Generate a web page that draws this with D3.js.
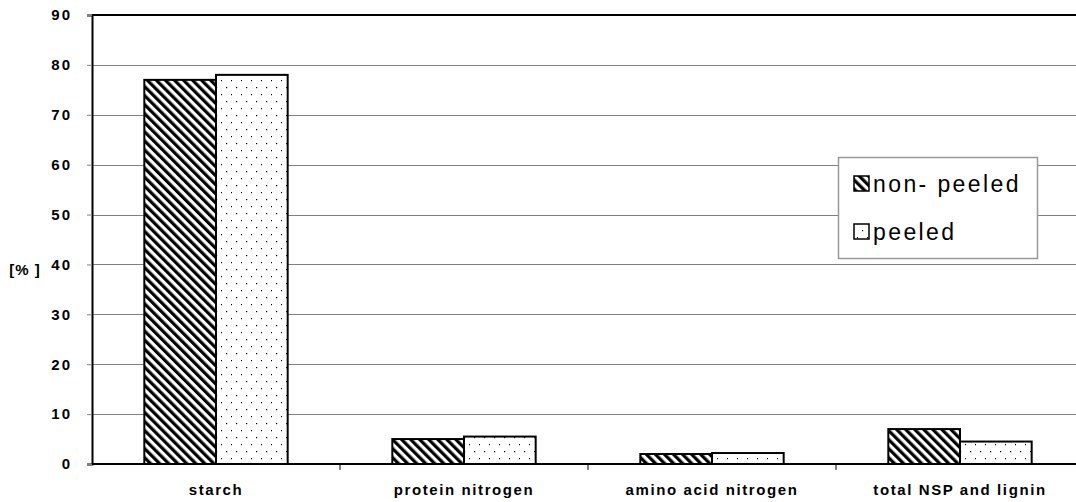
<!DOCTYPE html>
<html><head><meta charset="utf-8">
<script src="https://cdn.jsdelivr.net/npm/d3@7"></script>
<style>body{margin:0;background:#fff}svg{display:block}text{font-family:"Liberation Sans",Arial,sans-serif}</style>
</head><body>
<script>
const categories = ["starch", "protein nitrogen", "amino acid nitrogen", "total NSP and lignin"];
const seriesNames = ["non- peeled", "peeled"];
const nonPeeled = [77, 5, 2, 7];
const peeled = [78, 5.5, 2.2, 4.5];
const yTicks = [0, 10, 20, 30, 40, 50, 60, 70, 80, 90];

const W = 1076, H = 502;
const m = {left: 92, top: 15, right: -8, bottom: 38};
const svg = d3.select("body").append("svg").attr("width", W).attr("height", H);
const defs = svg.append("defs");
const hatch = defs.append("pattern").attr("id", "hatch").attr("patternUnits", "userSpaceOnUse")
  .attr("width", 6.4).attr("height", 6.4).attr("patternTransform", "rotate(-45)");
hatch.append("rect").attr("width", 6.4).attr("height", 6.4).attr("fill", "#fff");
hatch.append("rect").attr("x", 0).attr("width", 3.2).attr("height", 6.4).attr("fill", "#000");
const dots = defs.append("pattern").attr("id", "dots").attr("patternUnits", "userSpaceOnUse")
  .attr("width", 10).attr("height", 14);
dots.append("rect").attr("width", 10).attr("height", 14).attr("fill", "#fff");
dots.append("rect").attr("x", 4).attr("y", 3).attr("width", 1.2).attr("height", 1.2).attr("fill", "#000");
dots.append("rect").attr("x", 9).attr("y", 10).attr("width", 1.2).attr("height", 1.2).attr("fill", "#000");

const x0 = d3.scaleBand().domain(categories).range([m.left, W - m.right]).paddingInner(0).paddingOuter(0);
const y = d3.scaleLinear().domain([0, 90]).range([H - m.bottom, m.top]);
const x1 = d3.scaleBand().domain(seriesNames).range([0, x0.bandwidth()]).paddingInner(0).paddingOuter(0.73);

// gridlines
svg.append("g").selectAll("line").data(yTicks.filter(d => d > 0 && d < 90)).join("line")
  .attr("x1", m.left).attr("x2", W).attr("y1", d => Math.round(y(d)) + 0.5).attr("y2", d => Math.round(y(d)) + 0.5)
  .attr("stroke", "#808080").attr("stroke-width", 1);

// top border
svg.append("line").attr("x1", m.left).attr("x2", W).attr("y1", y(90)).attr("y2", y(90))
  .attr("stroke", "#000").attr("stroke-width", 2);

// bars
const data = categories.map((c, i) => ({c, vals: [nonPeeled[i], peeled[i]]}));
const fills = ["url(#hatch)", "url(#dots)"];
const g = svg.append("g").selectAll("g").data(data).join("g")
  .attr("transform", d => `translate(${x0(d.c)},0)`);
g.selectAll("rect").data(d => d.vals.map((v, j) => ({v, j}))).join("rect")
  .attr("x", d => x1(seriesNames[d.j])).attr("width", x1.bandwidth())
  .attr("y", d => y(d.v)).attr("height", d => y(0) - y(d.v))
  .attr("fill", d => fills[d.j]).attr("stroke", "#000").attr("stroke-width", 2);

// y axis
const yAxis = d3.axisLeft(y).tickValues(yTicks).tickSize(5).tickPadding(15).tickFormat(d3.format("d"));
const ya = svg.append("g").attr("transform", `translate(${m.left},0)`).call(yAxis);
ya.select(".domain").attr("stroke", "#000").attr("stroke-width", 2);
ya.selectAll(".tick line").attr("stroke", "#808080");
ya.selectAll("text").attr("font-size", 15).attr("font-weight", "bold").attr("fill", "#000")
  .attr("letter-spacing", "2px").attr("font-family", "Liberation Sans, Arial, sans-serif");

// x axis
const xAxis = d3.axisBottom(x0).tickSize(0).tickPadding(20);
const xa = svg.append("g").attr("transform", `translate(0,${y(0)})`).call(xAxis);
xa.select(".domain").attr("stroke", "#000").attr("stroke-width", 2).attr("d", `M${m.left},0H${W}`);
xa.selectAll("text").attr("font-size", 15).attr("font-weight", "bold").attr("fill", "#000")
  .attr("letter-spacing", "1.6px").attr("font-family", "Liberation Sans, Arial, sans-serif");
// category separator ticks
svg.append("g").selectAll("line").data(categories.slice(1)).join("line")
  .attr("x1", d => x0(d)).attr("x2", d => x0(d)).attr("y1", y(0)).attr("y2", y(0) + 6)
  .attr("stroke", "#000").attr("stroke-width", 1);

// y label
svg.append("text").attr("x", 25).attr("y", 275).attr("text-anchor", "middle")
  .attr("font-size", 15).attr("font-weight", "bold").attr("letter-spacing", "1px").text("[% ]");

// legend
const lg = svg.append("g").attr("transform", "translate(838,157)");
lg.append("rect").attr("x", 0.5).attr("y", 0.5).attr("width", 199).attr("height", 101)
  .attr("fill", "#fff").attr("stroke", "#999").attr("stroke-width", 1.5);
seriesNames.forEach((s, i) => {
  const yy = 19 + i * 48;
  lg.append("rect").attr("x", 16).attr("y", yy).attr("width", 15).attr("height", 15)
    .attr("fill", fills[i]).attr("stroke", "#000").attr("stroke-width", 1.5);
  lg.append("text").attr("x", 35).attr("y", yy + 16).attr("font-size", 23).attr("letter-spacing", "2.4px").text(s);
});
</script>
</body></html>
